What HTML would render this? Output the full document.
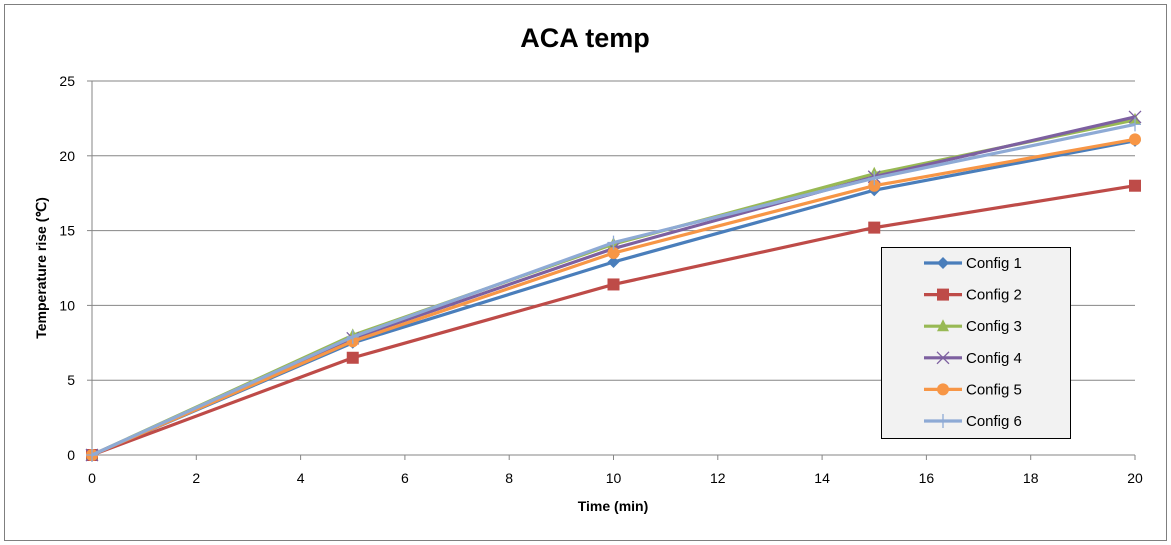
<!DOCTYPE html>
<html><head><meta charset="utf-8"><style>
body{margin:0;background:#fff;}
svg{display:block;font-family:"Liberation Sans",Calibri,sans-serif;}
</style></head><body>
<svg id="chart" width="1171" height="545" xmlns="http://www.w3.org/2000/svg">
<rect x="4.5" y="4.5" width="1162" height="536" fill="#fff" stroke="#7f7f7f"/>
<text x="585" y="47" text-anchor="middle" font-size="27" font-weight="bold">ACA temp</text>
<g id="grid"></g>
<g id="axes"></g>
<text transform="translate(46,268) rotate(-90)" text-anchor="middle" font-size="14" font-weight="bold">Temperature rise (℃)</text>
<text x="613" y="511" text-anchor="middle" font-size="14" font-weight="bold">Time (min)</text>
<g id="series"></g>
<g id="legend"></g>
</svg>
<script>
const xValues=[0,5,10,15,20];
const xTicks=[0,2,4,6,8,10,12,14,16,18,20];
const yTicks=[0,5,10,15,20,25];
const seriesNames=["Config 1","Config 2","Config 3","Config 4","Config 5","Config 6"];
const config1=[0,7.5,12.9,17.7,21.0];
const config2=[0,6.5,11.4,15.2,18.0];
const config3=[0,8.0,14.1,18.8,22.4];
const config4=[0,7.8,13.8,18.6,22.6];
const config5=[0,7.6,13.5,18.0,21.1];
const config6=[0,7.9,14.2,18.5,22.1];
const colors=["#4a7ebb","#be4b48","#98b954","#7d60a0","#f79646","#8eaad5"];
const markers=["diamond","square","triangle","x","circle","plus"];
const allSeries=[config1,config2,config3,config4,config5,config6];
const NS="http://www.w3.org/2000/svg";
const X0=92,X1=1135,Y0=455,Y1=81;
function xs(v){return X0+(v-0)/(20-0)*(X1-X0);}
function ys(v){return Y0-(v-0)/(25-0)*(Y0-Y1);}
function mk(tag,attrs,parent){const e=document.createElementNS(NS,tag);for(const k in attrs)e.setAttribute(k,attrs[k]);parent.appendChild(e);return e;}
const grid=document.getElementById('grid'),axes=document.getElementById('axes');
yTicks.forEach(t=>{
  if(t>0){const l=mk('line',{x1:X0,x2:X1,y1:ys(t),y2:ys(t),stroke:'#868686','stroke-width':1},grid);
  
  }
  const tx=mk('text',{x:X0-17,y:ys(t)+5,'text-anchor':'end','font-size':14},axes);
  tx.textContent=t;
  
  
});
const xl=mk('line',{x1:X0,x2:X1,y1:Y0,y2:Y0,stroke:'#868686'},axes);


const yl=mk('line',{x1:X0,x2:X0,y1:Y0,y2:Y1,stroke:'#868686'},axes);


xTicks.forEach(t=>{
  const tk=mk('line',{x1:xs(t),x2:xs(t),y1:Y0,y2:Y0+5,stroke:'#868686'},axes);
  
  
  const tx=mk('text',{x:xs(t),y:Y0+28,'text-anchor':'middle','font-size':14},axes);
  tx.textContent=t;
  
  
});
yTicks.forEach(t=>{const tk=mk('line',{x1:X0-5,x2:X0,y1:ys(t),y2:ys(t),stroke:'#868686'},axes);
  
  });
function marker(type,cx,cy,color,parent){
  let e;
  if(type==='diamond')e=mk('path',{d:`M${cx} ${cy-6}L${cx+6} ${cy}L${cx} ${cy+6}L${cx-6} ${cy}Z`,fill:color},parent);
  else if(type==='square')e=mk('rect',{x:cx-6,y:cy-6,width:12,height:12,fill:color},parent);
  else if(type==='triangle')e=mk('path',{d:`M${cx} ${cy-7}L${cx+6} ${cy+5}L${cx-6} ${cy+5}Z`,fill:color},parent);
  else if(type==='circle')e=mk('circle',{cx:cx,cy:cy,r:6,fill:color},parent);
  else if(type==='x')e=mk('path',{d:`M${cx-6} ${cy-6}L${cx+6} ${cy+6}M${cx-6} ${cy+6}L${cx+6} ${cy-6}`,stroke:color,'stroke-width':1.3},parent);
  else e=mk('path',{d:`M${cx} ${cy-7}V${cy+7}M${cx-6} ${cy}H${cx+6}`,stroke:color,'stroke-width':1.3},parent);
  return e;
}
const sg=document.getElementById('series');
allSeries.forEach((vals,i)=>{
  const g=mk('g',{},sg);
  
  
  const pts=vals.map((v,j)=>xs(xValues[j])+','+ys(v)).join(' ');
  const pl=mk('polyline',{points:pts,fill:'none',stroke:colors[i],'stroke-width':3.2,'stroke-linejoin':'round'},g);
  
  
  vals.forEach((v,j)=>{const m=marker(markers[i],xs(xValues[j]),ys(v),colors[i],g);
    
    });
});
const lg=document.getElementById('legend');
const box=mk('rect',{x:881.5,y:247.5,width:189,height:191,fill:'#f2f2f2',stroke:'#000'},lg);


seriesNames.forEach((n,i)=>{
  const y=263+i*31.6;
  const g=mk('g',{},lg);
  
  
  mk('line',{x1:924,x2:962,y1:y,y2:y,stroke:colors[i],'stroke-width':3.2},g);
  marker(markers[i],943,y,colors[i],g);
  const t=mk('text',{x:966,y:y+5,'font-size':15},g);
  t.textContent=n;
});
</script>
</body></html>
